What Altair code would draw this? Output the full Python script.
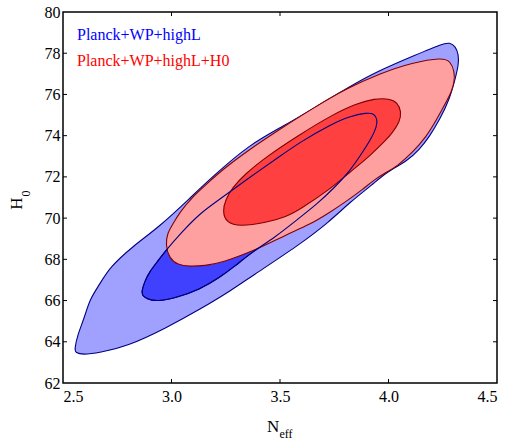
import altair as alt
import pandas as pd

# Axis ranges and tick positions
x_domain = [2.5, 4.5]
y_domain = [62, 80]
x_ticks = [2.5, 3.0, 3.5, 4.0, 4.5]
y_ticks = [62, 64, 66, 68, 70, 72, 74, 76, 78, 80]
x_inner_ticks = [3.0, 3.5, 4.0]
y_inner_ticks = [64, 66, 68, 70, 72, 74, 76, 78]

# Planck+WP+highL, 95% region
blue95_neff = [2.553, 2.567, 2.599, 2.622, 2.668, 2.714, 2.820, 2.945, 3.083, 3.189,
               3.359, 3.512, 3.668, 3.820, 3.945, 4.130, 4.250, 4.282, 4.309, 4.323,
               4.323, 4.309, 4.281, 4.236, 4.189, 4.143, 4.083, 3.995, 3.926, 3.820,
               3.728, 3.590, 3.359, 3.281, 3.129, 2.977, 2.793, 2.668, 2.590, 2.558]
blue95_h0 = [63.62, 64.34, 65.17, 66.04, 66.77, 67.60, 68.62, 69.59, 70.95, 72.01,
             73.57, 74.44, 75.41, 76.38, 77.11, 77.94, 78.47, 78.52, 78.33, 77.94,
             77.45, 76.82, 75.75, 74.78, 73.96, 73.33, 72.74, 72.26, 71.63, 70.75,
             69.83, 68.71, 67.11, 66.53, 65.56, 64.68, 63.76, 63.47, 63.37, 63.47]

# Planck+WP+highL, 68% region
blue68_neff = [2.862, 2.876, 2.899, 2.935, 2.977, 3.037, 3.129, 3.221, 3.346, 3.498,
               3.590, 3.742, 3.820, 3.899, 3.935, 3.949, 3.945, 3.926, 3.880, 3.820,
               3.751, 3.668, 3.590, 3.475, 3.373, 3.290, 3.221, 3.129, 3.023, 2.931,
               2.885, 2.866]
blue68_h0 = [66.43, 66.92, 67.40, 67.89, 68.47, 69.20, 70.22, 70.90, 71.87, 72.99,
             73.67, 74.59, 74.93, 75.12, 75.07, 74.78, 74.44, 73.96, 73.18, 72.26,
             71.48, 70.66, 70.02, 69.05, 68.37, 67.65, 67.11, 66.53, 66.14, 65.95,
             66.09, 66.24]

# Planck+WP+highL+H0, 95% region
red95_neff = [2.972, 2.982, 3.005, 3.037, 3.097, 3.175, 3.235, 3.359, 3.498, 3.650,
              3.806, 3.959, 4.111, 4.249, 4.286, 4.304, 4.304, 4.290, 4.272, 4.222,
              4.175, 4.111, 4.037, 3.995, 3.935, 3.880, 3.797, 3.728, 3.636, 3.530,
              3.392, 3.235, 3.152, 3.083, 3.028, 2.991]
red95_h0 = [68.71, 69.30, 69.68, 70.27, 71.04, 71.77, 72.35, 73.33, 74.30, 75.32,
            76.29, 77.01, 77.55, 77.79, 77.60, 77.11, 76.63, 76.14, 75.75, 74.78,
            73.96, 73.18, 72.50, 72.26, 71.87, 71.38, 70.75, 70.27, 69.68, 69.20,
            68.47, 67.84, 67.69, 67.65, 67.74, 68.03]

# Planck+WP+highL+H0, 68% region
red68_neff = [3.235, 3.249, 3.281, 3.336, 3.438, 3.590, 3.742, 3.853, 3.935, 4.005,
              4.041, 4.060, 4.051, 4.018, 3.991, 3.912, 3.820, 3.728, 3.590, 3.530,
              3.438, 3.313, 3.253]
red68_h0 = [70.32, 70.90, 71.48, 72.11, 72.99, 74.05, 75.02, 75.56, 75.80, 75.80,
            75.61, 75.17, 74.64, 74.15, 73.81, 72.99, 72.21, 71.38, 70.41, 70.07,
            69.78, 69.59, 69.78]

legend_labels = ["Planck+WP+highL", "Planck+WP+highL+H0"]
legend_colors = ["#0000ff", "#ff0000"]

W, H = 434, 371
SERIF = "Liberation Serif"

x_scale = alt.Scale(domain=x_domain, nice=False, zero=False)
y_scale = alt.Scale(domain=y_domain, nice=False, zero=False)

x_axis = alt.Axis(values=x_ticks, format=".1f", title=None, grid=False,
                  domain=False, ticks=False, labelPadding=5,
                  labelFont=SERIF, labelFontSize=16, labelColor="black")
y_axis = alt.Axis(values=y_ticks, format="d", title=None, grid=False,
                  domain=False, ticks=False, labelPadding=3,
                  labelFont=SERIF, labelFontSize=16, labelColor="black")


def contour(xs, ys, fill, stroke):
    df = pd.DataFrame({"neff": xs, "h0": ys, "i": range(len(xs))})
    return alt.Chart(df).mark_line(
        interpolate="basis-closed", stroke=stroke, strokeWidth=1.1, fill=fill
    ).encode(
        x=alt.X("neff:Q", scale=x_scale, axis=x_axis),
        y=alt.Y("h0:Q", scale=y_scale, axis=y_axis),
        order=alt.Order("i:Q"),
    )


layers = [
    contour(blue95_neff, blue95_h0, "#a0a0ff", "#000080"),
    contour(blue68_neff, blue68_h0, "#4040ff", "#000080"),
    contour(red95_neff, red95_h0, "#ffa0a0", "#800000"),
    contour(red68_neff, red68_h0, "#ff4040", "#800000"),
    contour(blue68_neff, blue68_h0, "transparent", "#000080"),
]

# Inward-pointing ticks on all four sides
tick_len = 4
xt = pd.DataFrame({"neff": x_inner_ticks})
yt = pd.DataFrame({"h0": y_inner_ticks})
tick_style = dict(color="black", strokeWidth=1)
layers += [
    alt.Chart(xt).mark_rule(**tick_style).encode(
        x=alt.X("neff:Q", scale=x_scale, axis=x_axis),
        y=alt.value(H), y2=alt.value(H - tick_len)),
    alt.Chart(xt).mark_rule(**tick_style).encode(
        x=alt.X("neff:Q", scale=x_scale, axis=x_axis),
        y=alt.value(0), y2=alt.value(tick_len)),
    alt.Chart(yt).mark_rule(**tick_style).encode(
        y=alt.Y("h0:Q", scale=y_scale, axis=y_axis),
        x=alt.value(0), x2=alt.value(tick_len)),
    alt.Chart(yt).mark_rule(**tick_style).encode(
        y=alt.Y("h0:Q", scale=y_scale, axis=y_axis),
        x=alt.value(W), x2=alt.value(W - tick_len)),
]

# Legend entries as coloured text
leg = pd.DataFrame({"label": legend_labels, "row": [0, 1]})
for k in range(len(legend_labels)):
    layers.append(
        alt.Chart(leg[leg["row"] == k]).mark_text(
            font=SERIF, fontSize=16, align="left", baseline="alphabetic",
            color=legend_colors[k],
        ).encode(text="label:N", x=alt.value(14), y=alt.value(27.5 + 26 * k))
    )


# Axis titles with subscripts
def label(txt, x, y, size, angle=0, align="left"):
    kw = dict(font=SERIF, fontSize=size, align=align, baseline="alphabetic", color="black")
    if angle:
        kw["angle"] = angle
    return alt.Chart(pd.DataFrame({"t": [txt]})).mark_text(**kw).encode(
        text="t:N", x=alt.value(x), y=alt.value(y))


layers += [
    label("N", 204, 420, 17),
    label("eff", 216.5, 425.5, 12),
    label("H", -41, 191.5, 17, angle=270, align="center"),
    label("0", -33.5, 181.5, 12, angle=270, align="center"),
]

chart = alt.layer(*layers).properties(
    width=W, height=H,
    autosize=alt.AutoSizeParams(type="none"),
    padding={"left": 63, "top": 12, "right": 12, "bottom": 57},
).configure_view(stroke="black", strokeWidth=1.5)

chart.save("out.html", embed_options={"renderer": "svg", "actions": False})
